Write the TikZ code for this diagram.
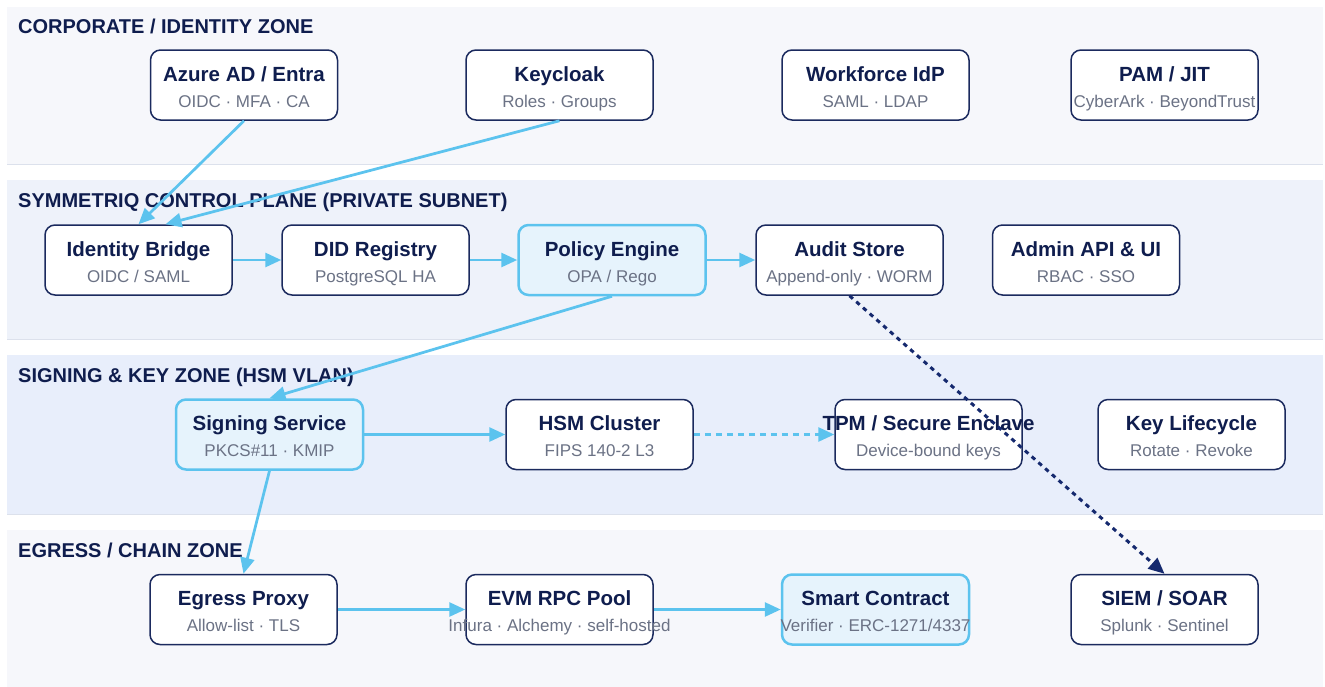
\documentclass[tikz,border=0pt]{standalone}
\usepackage{fontspec}
\setmainfont{Liberation Sans}
\usetikzlibrary{arrows.meta}

\definecolor{zonepale}{HTML}{F6F7FB}
\definecolor{zonemid}{HTML}{EEF2FA}
\definecolor{zonehsm}{HTML}{E8EEFB}
\definecolor{zoneedge}{HTML}{DCE1EC}
\definecolor{boxnavy}{HTML}{1B2A5E}
\definecolor{titlenavy}{HTML}{0F1D4E}
\definecolor{subgray}{HTML}{6B7285}
\definecolor{skyline}{HTML}{5CC3EE}
\definecolor{hotfill}{HTML}{E6F3FC}
\definecolor{auditnavy}{HTML}{15296E}

\tikzset{
	plainbox/.style={draw=boxnavy, line width=1.5pt, fill=white, rounded corners=10pt,
		minimum width=187pt, minimum height=70pt, inner sep=0pt},
	hotbox/.style={plainbox, draw=skyline, line width=2.5pt, fill=hotfill},
	titletext/.style={anchor=base, inner sep=0pt, text=titlenavy, font=\fontsize{20.5}{24}\selectfont\bfseries},
	subtext/.style={anchor=base, inner sep=0pt, text=subgray, font=\fontsize{17}{20}\selectfont},
	zonetitle/.style={anchor=base west, inner sep=0pt, text=titlenavy, font=\fontsize{20}{24}\selectfont\bfseries},
	flow/.style={draw=skyline, line width=2.75pt, -{Triangle[length=16pt,width=14pt]}},
	dashflow/.style={flow, dash pattern=on 6pt off 5pt},
	auditflow/.style={draw=auditnavy, line width=3pt, dash pattern=on 4.5pt off 4.5pt, -{Triangle[length=16pt,width=14pt]}},
}

% box with a bold title and a grey second line
\newcommand{\svcbox}[5][plainbox]{%
	\node[#1] (#2) at (#3) {};
	\node[titletext] (#2-t) at ([yshift=4pt]#2.center) {#4};
	\node[subtext] (#2-s) at ([yshift=-22pt]#2.center) {#5};
}

\begin{document}
\begin{tikzpicture}[x=1pt,y=-1pt]
	%%%%% START %%%%%
	\useasboundingbox (0,0) rectangle (1325,686);
	\def\xl{7}
	\def\xr{1323}
	\def\rowone{85}
	\def\rowtwo{260}
	\def\rowthree{434.5}
	\def\rowfour{609.5}
	
	% zones
	\fill[zonepale] (\xl,7) rectangle (\xr,164);
	\draw[zoneedge, line width=1pt] (\xl,164) -- (\xr,164);
	\fill[zonemid] (\xl,180) rectangle (\xr,339);
	\draw[zoneedge, line width=1pt] (\xl,339) -- (\xr,339);
	\fill[zonehsm] (\xl,355) rectangle (\xr,514);
	\draw[zoneedge, line width=1pt] (\xl,514) -- (\xr,514);
	\fill[zonepale] (\xl,530) rectangle (\xr,690);
	
	\node[zonetitle] (hdr-corp) at (18,33) {CORPORATE / IDENTITY ZONE};
	\node[zonetitle] (hdr-ctrl) at (18,207) {SYMMETRIQ CONTROL PLANE (PRIVATE SUBNET)};
	\node[zonetitle] (hdr-hsm) at (18,382) {SIGNING \& KEY ZONE (HSM VLAN)};
	\node[zonetitle] (hdr-egress) at (18,557) {EGRESS / CHAIN ZONE};
	
	% corporate row
	\svcbox{azure}{244,\rowone}{Azure AD / Entra}{OIDC · MFA · CA}
	\svcbox{keycloak}{559.5,\rowone}{Keycloak}{Roles · Groups}
	\svcbox{workforce}{875.5,\rowone}{Workforce IdP}{SAML · LDAP}
	\svcbox{pam}{1164.5,\rowone}{PAM / JIT}{CyberArk · BeyondTrust}
	
	% control plane row
	\svcbox{bridge}{138.5,\rowtwo}{Identity Bridge}{OIDC / SAML}
	\svcbox{did}{375.5,\rowtwo}{DID Registry}{PostgreSQL HA}
	\svcbox[hotbox]{policy}{612,\rowtwo}{Policy Engine}{OPA / Rego}
	\svcbox{audit}{849.5,\rowtwo}{Audit Store}{Append-only · WORM}
	\svcbox{admin}{1086,\rowtwo}{Admin API \& UI}{RBAC · SSO}
	
	% signing row
	\svcbox[hotbox]{signing}{269.5,\rowthree}{Signing Service}{PKCS\#11 · KMIP}
	\svcbox{hsm}{599.5,\rowthree}{HSM Cluster}{FIPS 140-2 L3}
	\svcbox{tpm}{928.5,\rowthree}{TPM / Secure Enclave}{Device-bound keys}
	\svcbox{keylife}{1191.5,\rowthree}{Key Lifecycle}{Rotate · Revoke}
	
	% egress row
	\svcbox{egress}{243.5,\rowfour}{Egress Proxy}{Allow-list · TLS}
	\svcbox{evm}{559.5,\rowfour}{EVM RPC Pool}{Infura · Alchemy · self-hosted}
	\svcbox[hotbox]{contract}{875.5,\rowfour}{Smart Contract}{Verifier · ERC-1271/4337}
	\svcbox{siem}{1164.5,\rowfour}{SIEM / SOAR}{Splunk · Sentinel}
	
	% flows
	\draw[flow] (azure.south) -- (bridge.north);
	\draw[flow] (keycloak.south) -- ([xshift=27pt]bridge.north);
	\draw[flow] (bridge.east) -- (did.west);
	\draw[flow] (did.east) -- (policy.west);
	\draw[flow] (policy.east) -- (audit.west);
	\draw[flow] (policy.south) -- (signing.north);
	\draw[flow] (signing.east) -- (hsm.west);
	\draw[dashflow] (hsm.east) -- (tpm.west);
	\draw[flow] (signing.south) -- (egress.north);
	\draw[flow] (egress.east) -- (evm.west);
	\draw[flow] (evm.east) -- (contract.west);
	\draw[auditflow] (audit.south) -- (siem.north);
	%%%%% END %%%%%
\end{tikzpicture}
\end{document}
